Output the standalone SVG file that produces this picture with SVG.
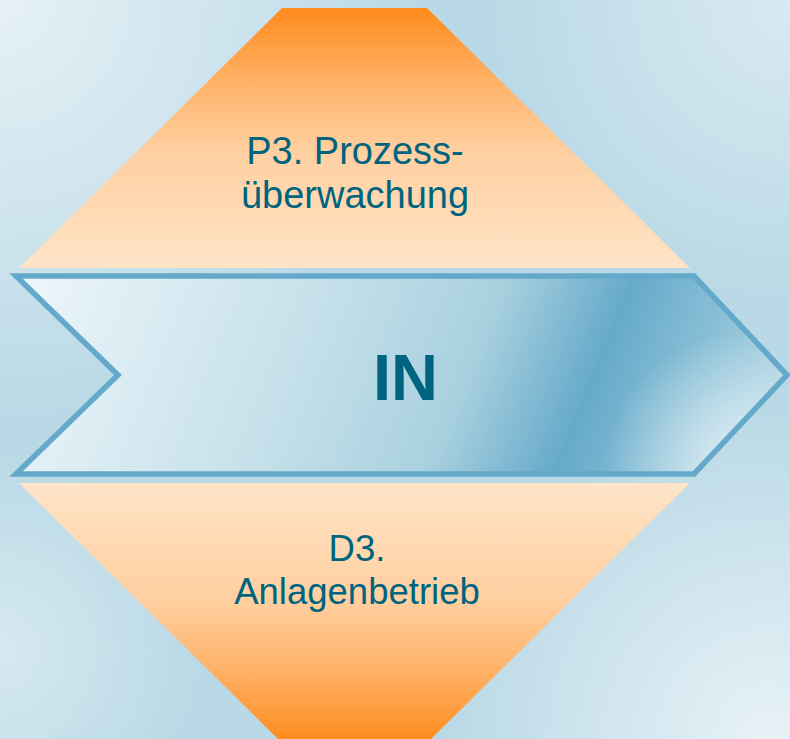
<svg xmlns="http://www.w3.org/2000/svg" width="790" height="739" viewBox="0 0 790 739">
  <defs>
    <style>
      .label { font-family: "Liberation Sans", Arial, sans-serif; fill: #00647f; text-anchor: middle; }
      .title { font-family: "Liberation Sans", Arial, sans-serif; fill: #00637f; text-anchor: middle; font-weight: bold; }
    </style>
    <!-- background glow in the corners -->
    <radialGradient id="glowTL" cx="0" cy="0" r="420" gradientUnits="userSpaceOnUse">
      <stop offset="0" stop-color="#e6f1f6"/>
      <stop offset="1" stop-color="#e6f1f6" stop-opacity="0"/>
    </radialGradient>
    <radialGradient id="glowTR" cx="790" cy="0" r="300" gradientUnits="userSpaceOnUse">
      <stop offset="0" stop-color="#d9eaf1"/>
      <stop offset="1" stop-color="#d9eaf1" stop-opacity="0"/>
    </radialGradient>
    <radialGradient id="glowBR" cx="770" cy="739" r="330" gradientUnits="userSpaceOnUse">
      <stop offset="0" stop-color="#e8f2f7"/>
      <stop offset="1" stop-color="#e8f2f7" stop-opacity="0"/>
    </radialGradient>
    <radialGradient id="glowBL" cx="0" cy="650" r="200" gradientUnits="userSpaceOnUse">
      <stop offset="0" stop-color="#d6e9f0"/>
      <stop offset="1" stop-color="#d6e9f0" stop-opacity="0"/>
    </radialGradient>
    <!-- orange wedge fills -->
    <linearGradient id="orangeDown" x1="0" y1="8" x2="0" y2="268" gradientUnits="userSpaceOnUse">
      <stop offset="0" stop-color="#ff8b1c"/>
      <stop offset="0.3" stop-color="#ffb46c"/>
      <stop offset="0.55" stop-color="#ffcfa0"/>
      <stop offset="1" stop-color="#ffe4c8"/>
    </linearGradient>
    <linearGradient id="orangeUp" x1="0" y1="743" x2="0" y2="483" gradientUnits="userSpaceOnUse">
      <stop offset="0" stop-color="#ff8b1c"/>
      <stop offset="0.3" stop-color="#ffb46c"/>
      <stop offset="0.55" stop-color="#ffcfa0"/>
      <stop offset="1" stop-color="#ffe4c8"/>
    </linearGradient>
    <!-- chevron band fill -->
    <linearGradient id="band" x1="0" y1="230" x2="780" y2="545" gradientUnits="userSpaceOnUse">
      <stop offset="0.06" stop-color="#ecf5fa"/>
      <stop offset="0.4" stop-color="#c3dfe9"/>
      <stop offset="0.58" stop-color="#a8d0df"/>
      <stop offset="0.72" stop-color="#66aaca"/>
      <stop offset="0.84" stop-color="#8cc1d7"/>
      <stop offset="1" stop-color="#c8e2ec"/>
    </linearGradient>
    <radialGradient id="bandGlow" cx="745" cy="470" r="140" gradientUnits="userSpaceOnUse">
      <stop offset="0" stop-color="#eef6fa" stop-opacity="0.85"/>
      <stop offset="1" stop-color="#eef6fa" stop-opacity="0"/>
    </radialGradient>
  </defs>

  <!-- background -->
  <rect x="0" y="0" width="790" height="739" fill="#b9d9e6"/>
  <rect x="0" y="0" width="790" height="739" fill="url(#glowTL)"/>
  <rect x="0" y="0" width="790" height="739" fill="url(#glowTR)"/>
  <rect x="0" y="0" width="790" height="739" fill="url(#glowBR)"/>
  <rect x="0" y="0" width="790" height="739" fill="url(#glowBL)"/>

  <g id="node-p3">
    <polygon points="282,8 427,8 690,268 19,268" fill="url(#orangeDown)"/>
    <text class="label" font-size="38" x="355" y="164">P3. Prozess-</text>
    <text class="label" font-size="38" x="355" y="208">überwachung</text>
  </g>

  <g id="node-d3">
    <polygon points="19,483 690,483 427,743 282,743" fill="url(#orangeUp)"/>
    <text class="label" font-size="36.5" x="357" y="561">D3.</text>
    <text class="label" font-size="36.5" x="357" y="604">Anlagenbetrieb</text>
  </g>

  <g id="node-in">
    <polygon points="16,276 694,276 787,375 694,474 16,474 118,375" fill="url(#band)"/>
    <polygon points="16,276 694,276 787,375 694,474 16,474 118,375" fill="url(#bandGlow)"/>
    <polygon points="16,276 694,276 787,375 694,474 16,474 118,375" fill="none" stroke="#64a9c9" stroke-width="5.5" stroke-linejoin="miter"/>
    <text class="title" font-size="65" x="405.5" y="400">IN</text>
  </g>

  <g id="connectors"/>
</svg>
